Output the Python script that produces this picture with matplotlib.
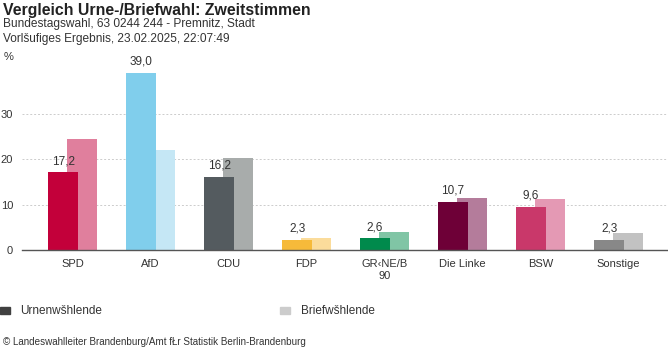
import matplotlib.pyplot as plt
import numpy as np

plt.rcParams['font.family'] = ['Liberation Sans', 'DejaVu Sans']

parties = ['SPD', 'AfD', 'CDU', 'FDP', 'GR‹NE/B\n90', 'Die Linke', 'BSW', 'Sonstige']
urne = [17.2, 39.0, 16.2, 2.3, 2.6, 10.7, 9.6, 2.3]
brief = [24.5, 22.0, 20.2, 2.7, 4.0, 11.6, 11.3, 3.8]
urne_labels = ['17,2', '39,0', '16,2', '2,3', '2,6', '10,7', '9,6', '2,3']
yticks = [0, 10, 20, 30]

dark_colors = ['#C3003A', '#80CEEC', '#545B5F', '#F6BA3A', '#008A4C', '#6E0037', '#C9386A', '#888888']
light_colors = ['#E07F9D', '#C5E7F5', '#A8ACAB', '#FBDC9B', '#80C5A5', '#B47C9B', '#E499B4', '#C2C2C2']

W, H = 668, 352
TXT = '#333333'


def main():
    fig = plt.figure(figsize=(W / 100, H / 100), dpi=100)
    ax = fig.add_axes([22 / W, (H - 250.3) / H, (W - 22) / W, 182 / H])

    x = np.arange(len(parties))
    width = 0.39
    off = 0.12
    ax.bar(x + off, brief, width, color=light_colors, zorder=2)
    ax.bar(x - off, urne, width, color=dark_colors, zorder=3)

    for xi, v, lab in zip(x, urne, urne_labels):
        ax.text(xi - off, v + 1.1, lab, ha='center', va='bottom', fontsize=8.5, color=TXT, zorder=5)

    ax.set_xlim(-0.647, 7.635)
    ax.set_ylim(0, 40)
    ax.set_yticks(yticks)
    ax.set_yticklabels([str(t) for t in yticks])
    ax.set_xticks(x)
    ax.set_xticklabels(parties, linespacing=1.25)
    ax.tick_params(axis='x', length=0, pad=6, labelsize=8, labelcolor=TXT)
    ax.tick_params(axis='y', length=0, pad=6.5, labelsize=8, labelcolor=TXT)
    for s in ['top', 'right', 'left']:
        ax.spines[s].set_visible(False)
    ax.spines['bottom'].set_color('#555555')
    ax.spines['bottom'].set_linewidth(1)
    ax.spines['bottom'].set_zorder(4)
    ax.grid(axis='y', linestyle=(0, (2, 2)), color='#cccccc', linewidth=0.7, zorder=0)
    ax.set_axisbelow(True)

    # header
    fig.text(3 / W, 1 - 11 / H, 'Vergleich Urne-/Briefwahl: Zweitstimmen', fontsize=11.4, fontweight='bold',
             color='#222222', va='center')
    fig.text(3 / W, 1 - 24.5 / H, 'Bundestagswahl, 63 0244 244 - Premnitz, Stadt', fontsize=8.6, color=TXT,
             va='center')
    fig.text(3 / W, 1 - 39 / H, 'Vorlšufiges Ergebnis, 23.02.2025, 22:07:49', fontsize=8.6, color=TXT,
             va='center')
    fig.text(4 / W, 1 - 57 / H, '%', fontsize=8, color=TXT, va='center')

    # legend
    fig.patches.append(plt.Rectangle((0, 1 - 313.5 / H), 10 / W, 7 / H, transform=fig.transFigure,
                                     color='#404040', figure=fig))
    fig.text(20.5 / W, 1 - 310.5 / H, 'Urnenwšhlende', fontsize=8.5, color=TXT, va='center')
    fig.patches.append(plt.Rectangle((280 / W, 1 - 313.5 / H), 10 / W, 7 / H, transform=fig.transFigure,
                                     color='#cccccc', figure=fig))
    fig.text(300.5 / W, 1 - 310.5 / H, 'Briefwšhlende', fontsize=8.5, color=TXT, va='center')

    fig.text(3 / W, 1 - 342 / H, '© Landeswahlleiter Brandenburg/Amt fŁr Statistik Berlin-Brandenburg',
             fontsize=7.1, color=TXT, va='center')

    fig.savefig('out.png', dpi=100)


if __name__ == '__main__':
    main()
